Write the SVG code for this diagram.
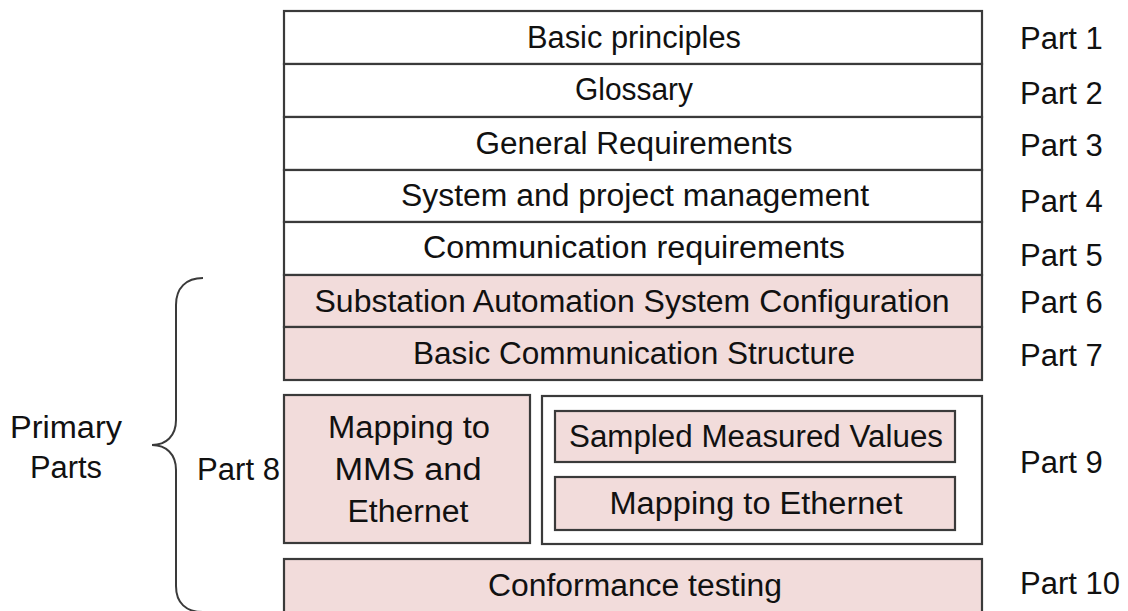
<svg xmlns="http://www.w3.org/2000/svg" width="1128" height="611" viewBox="0 0 1128 611">
<style>
.box{fill:#ffffff;stroke:#3a3a3a;stroke-width:2.2}
.pink{fill:#F2DCDB;stroke:#3a3a3a;stroke-width:2.2}
text{font-family:"Liberation Sans",Arial,sans-serif;font-size:31px;fill:#111111}
.c{text-anchor:middle}
.brace{fill:none;stroke:#3a3a3a;stroke-width:2}
</style>
<rect width="1128" height="611" fill="#ffffff"/>
<g id="part1"><rect class="box" x="284" y="11" width="698" height="53"/><text class="c" x="634" y="48" textLength="214" lengthAdjust="spacingAndGlyphs">Basic principles</text></g>
<g id="part2"><rect class="box" x="284" y="64" width="698" height="53"/><text class="c" x="634" y="100" textLength="118" lengthAdjust="spacingAndGlyphs">Glossary</text></g>
<g id="part3"><rect class="box" x="284" y="117" width="698" height="53"/><text class="c" x="634" y="154" textLength="317" lengthAdjust="spacingAndGlyphs">General Requirements</text></g>
<g id="part4"><rect class="box" x="284" y="170" width="698" height="52"/><text class="c" x="635" y="206" textLength="468" lengthAdjust="spacingAndGlyphs">System and project management</text></g>
<g id="part5"><rect class="box" x="284" y="222" width="698" height="53"/><text class="c" x="634" y="258" textLength="422" lengthAdjust="spacingAndGlyphs">Communication requirements</text></g>
<g id="part6"><rect class="pink" x="284" y="275" width="698" height="52"/><text class="c" x="632" y="312" textLength="635" lengthAdjust="spacingAndGlyphs">Substation Automation System Configuration</text></g>
<g id="part7"><rect class="pink" x="284" y="327" width="698" height="53"/><text class="c" x="634" y="364" textLength="442" lengthAdjust="spacingAndGlyphs">Basic Communication Structure</text></g>
<g id="part8"><rect class="pink" x="284" y="395" width="246" height="148"/><text class="c" x="409" y="438" textLength="162" lengthAdjust="spacingAndGlyphs">Mapping to</text><text class="c" x="408" y="480" textLength="147" lengthAdjust="spacingAndGlyphs">MMS and</text><text class="c" x="408" y="522" textLength="121" lengthAdjust="spacingAndGlyphs">Ethernet</text></g>
<g id="part9">
<rect class="box" x="542" y="396" width="440" height="148"/>
<g id="smv"><rect class="pink" x="555" y="411" width="400" height="51"/><text class="c" x="756" y="447" textLength="374" lengthAdjust="spacingAndGlyphs">Sampled Measured Values</text></g>
<g id="mte"><rect class="pink" x="555" y="477" width="400" height="53"/><text class="c" x="756" y="514" textLength="293" lengthAdjust="spacingAndGlyphs">Mapping to Ethernet</text></g>
</g>
<g id="part10"><rect class="pink" x="284" y="559" width="698" height="56"/><text class="c" x="635" y="596" textLength="294" lengthAdjust="spacingAndGlyphs">Conformance testing</text></g>
<g id="labels">
<text x="1020" y="49">Part 1</text>
<text x="1020" y="104">Part 2</text>
<text x="1020" y="156">Part 3</text>
<text x="1020" y="212">Part 4</text>
<text x="1020" y="266">Part 5</text>
<text x="1020" y="313">Part 6</text>
<text x="1020" y="366">Part 7</text>
<text x="1020" y="473">Part 9</text>
<text x="1020" y="594" textLength="100" lengthAdjust="spacingAndGlyphs">Part 10</text>
<text x="197" y="480" textLength="83" lengthAdjust="spacingAndGlyphs">Part 8</text>
<text x="10" y="438" textLength="112" lengthAdjust="spacingAndGlyphs">Primary</text>
<text x="30" y="478" textLength="72" lengthAdjust="spacingAndGlyphs">Parts</text>
</g>
<g id="connectors">
<path class="brace" d="M203 278 C186 278 176 288 176 305 L176 420 C176 436 166 445 152 445 C166 445 176 454 176 470 L176 586 C176 603 186 612 203 612"/>
</g>
</svg>
